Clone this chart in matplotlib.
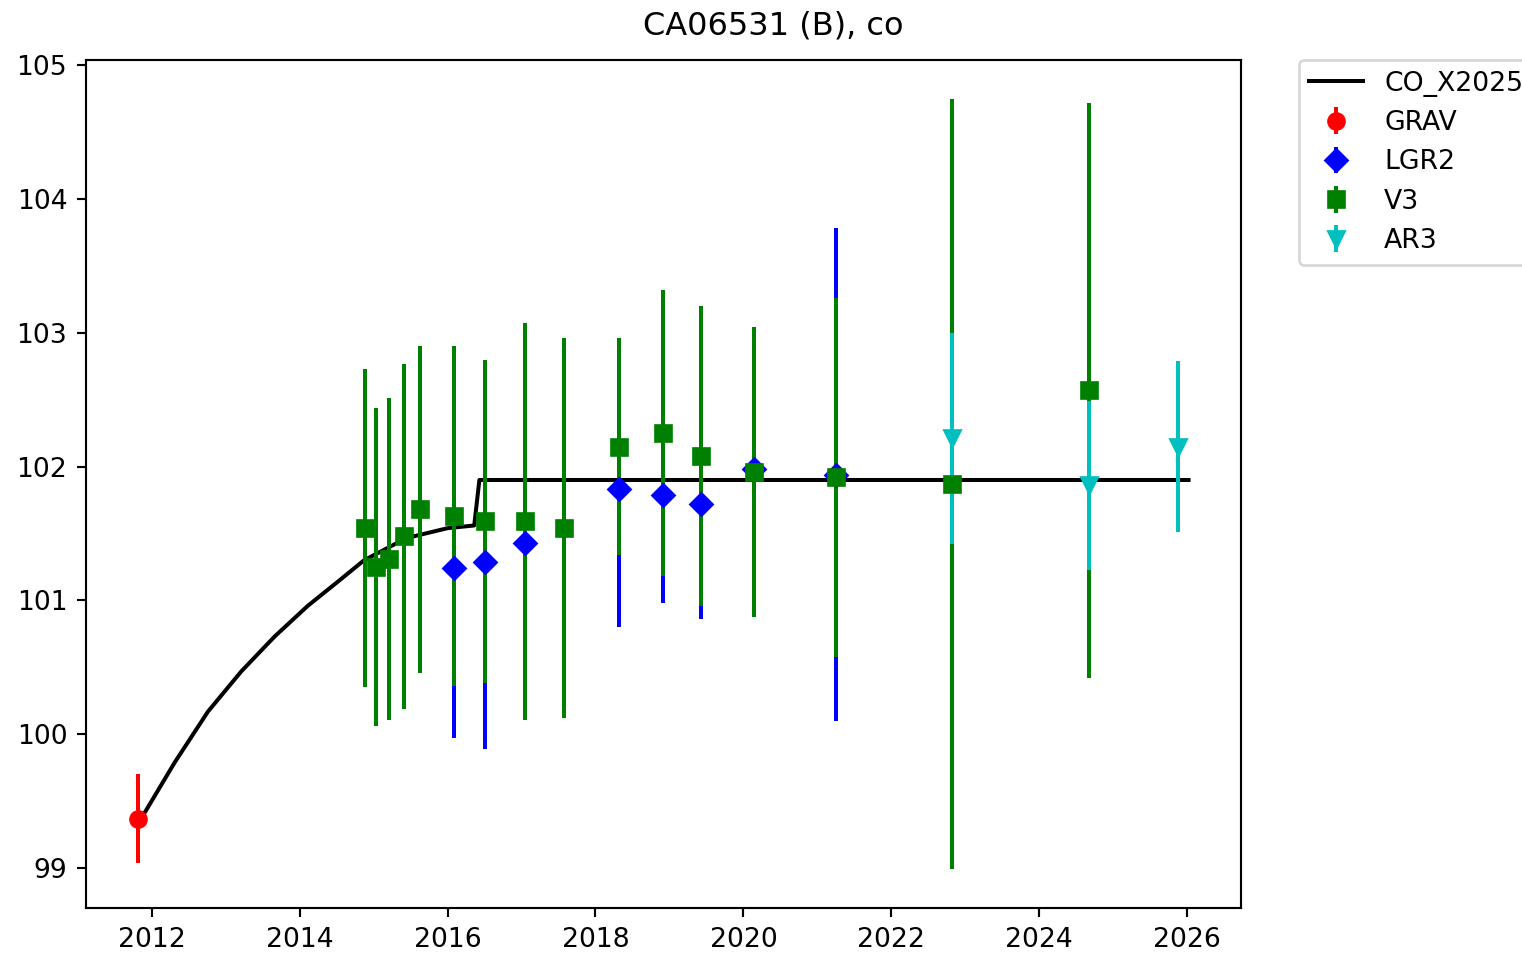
import numpy as np
import matplotlib
matplotlib.use('Agg')
import matplotlib.pyplot as plt

# model curve CO_X2025
model_t = [2011.83, 2011.91, 2012.31, 2012.76, 2013.21, 2013.66, 2014.11, 2014.56,
           2014.87, 2015.32, 2015.55, 2016.00, 2016.36, 2016.43, 2026.02]
model_v = [99.37, 99.42, 99.79, 100.17, 100.47, 100.73, 100.96, 101.16,
           101.30, 101.43, 101.48, 101.54, 101.56, 101.90, 101.90]

# GRAV
grav_t = [2011.82]
grav_v = [99.37]
grav_e = [0.33]

# LGR2
lgr2_t = [2016.08, 2016.50, 2017.05, 2018.32, 2018.91, 2019.43, 2020.14, 2021.25]
lgr2_v = [101.24, 101.29, 101.43, 101.83, 101.79, 101.72, 101.98, 101.94]
lgr2_e = [1.27, 1.40, 1.20, 1.03, 0.81, 0.86, 0.90, 1.84]

# V3
v3_t = [2014.88, 2015.03, 2015.21, 2015.41, 2015.63, 2016.08, 2016.50, 2017.05,
        2017.57, 2018.32, 2018.91, 2019.43, 2020.15, 2021.25, 2022.82, 2024.68]
v3_v = [101.54, 101.25, 101.31, 101.48, 101.68, 101.63, 101.59, 101.59,
        101.54, 102.15, 102.25, 102.08, 101.96, 101.92, 101.87, 102.57]
v3_e = [1.19, 1.19, 1.20, 1.29, 1.22, 1.27, 1.21, 1.48,
        1.42, 0.81, 1.07, 1.12, 1.08, 1.34, 2.88, 2.15]

# AR3
ar3_t = [2022.82, 2024.68, 2025.88]
ar3_v = [102.21, 101.86, 102.15]
ar3_e = [0.79, 0.63, 0.64]

dpi = 192
fig = plt.figure(figsize=(1522 / dpi, 955 / dpi), dpi=dpi)
ax = fig.add_axes([0.0565, 0.0492, 0.7589, 0.888])

ax.plot(model_t, model_v, 'k-', label='CO_X2025')
ax.errorbar(grav_t, grav_v, yerr=grav_e, fmt='ro', label='GRAV')
ax.errorbar(lgr2_t, lgr2_v, yerr=lgr2_e, fmt='bD', label='LGR2')
ax.errorbar(v3_t, v3_v, yerr=v3_e, fmt='gs', label='V3')
ax.errorbar(ar3_t, ar3_v, yerr=ar3_e, fmt='cv', label='AR3')

# title sits centred over the whole figure, not the axes
fig.text(0.508, 0.964, 'CA06531 (B), co', fontsize=12, ha='center', va='baseline')
ax.legend(bbox_to_anchor=(1.05, 1), loc='upper left', borderaxespad=0)

fig.savefig('out.png', dpi=dpi)
